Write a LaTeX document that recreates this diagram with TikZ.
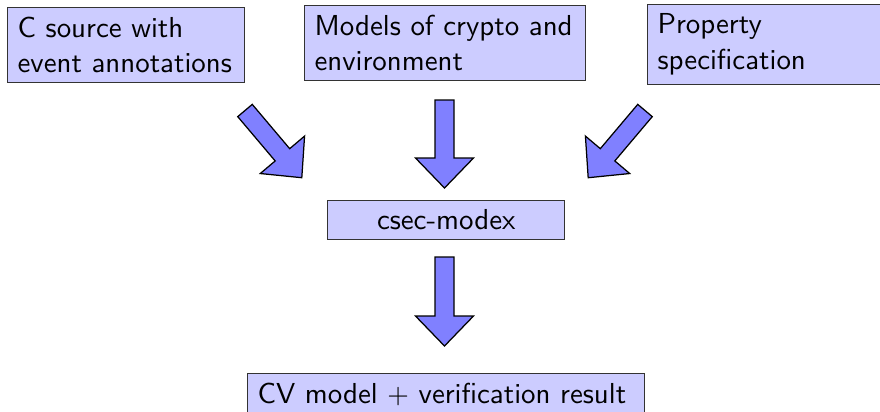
\documentclass[tikz,border=0pt]{standalone}
\begin{document}
\begin{tikzpicture}[x=0.36pt,y=-0.36pt,
  font=\sffamily\fontsize{10.4}{12.8}\selectfont,
  box/.style={draw=black!80, fill=blue!20, line width=0.45pt, inner xsep=3.6pt, inner ysep=3.35pt, align=left, anchor=north west},
  bigarrow/.style={draw=black, fill=blue!50, line width=0.45pt, line join=miter}]
\useasboundingbox (0,0) rectangle (880,411);
\newcommand\bigarr[3]{\filldraw[bigarrow, shift={(#1)}, rotate=#2]
  (0,-9.5) -- (#3-30,-9.5) -- (#3-30,-29) -- (#3,0) -- (#3-30,29) -- (#3-30,9.5) -- (0,9.5) -- cycle;}
% boxes
\node[box, text width=78.2pt] (src) at (7,7) {C source with\\event annotations};
\node[box, text width=94pt] (models) at (304,5) {Models of crypto and\\environment};
\node[box, text width=78.2pt] (prop) at (647,4) {Property\\specification};
\node[box, text width=78.2pt, align=center] (tool) at (327,200) {csec-modex};
\node[box, text width=135.8pt] (res) at (247,373) {CV model $+$ verification result};
% arrows
\coordinate (a1) at (245,110.5);
\coordinate (a2) at (444.5,100);
\coordinate (a3) at (645,110.5);
\coordinate (a4) at (444.5,257);
\bigarr{a1}{-49.8}{88}
\bigarr{a2}{-90}{88}
\bigarr{a3}{-130.2}{88}
\bigarr{a4}{-90}{89}
\end{tikzpicture}
\end{document}
